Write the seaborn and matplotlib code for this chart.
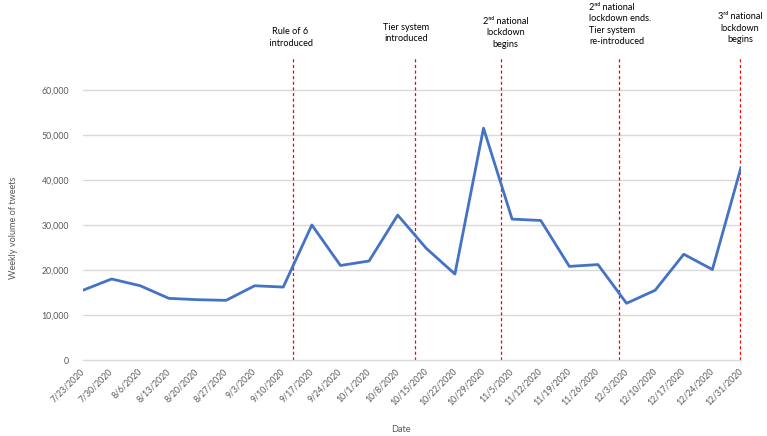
import numpy as np
import pandas as pd
import matplotlib
matplotlib.use("Agg")
import matplotlib.pyplot as plt
import seaborn as sns

# =========================
# Data
# =========================
dates = ["7/23/2020", "7/30/2020", "8/6/2020", "8/13/2020", "8/20/2020", "8/27/2020",
         "9/3/2020", "9/10/2020", "9/17/2020", "9/24/2020", "10/1/2020", "10/8/2020",
         "10/15/2020", "10/22/2020", "10/29/2020", "11/5/2020", "11/12/2020",
         "11/19/2020", "11/26/2020", "12/3/2020", "12/10/2020", "12/17/2020",
         "12/24/2020", "12/31/2020"]
weekly_tweets = [15500, 18000, 16500, 13700, 13400, 13250,
                 16500, 16200, 30000, 21000, 22000, 32200,
                 24800, 19100, 51500, 31300, 31000,
                 20800, 21200, 12600, 15500, 23500,
                 20100, 42800]

# event markers (position on the weekly axis) and their labels
event_pos = [7.35, 11.6, 14.6, 18.72, 22.98]
event_text = [
    "Rule of 6\n introduced",
    "Tier system\nintroduced",
    "2ⁿᵈ national\nlockdown\nbegins",
    "2ⁿᵈ national\nlockdown ends.\nTier system\nre-introduced",
    "3ʳᵈ national\nlockdown\nbegins",
]

# =========================
# Setup
# =========================
sns.set_theme(style="white")
plt.rcParams["font.family"] = ["Lato", "DejaVu Sans"]

df = pd.DataFrame({"week": np.arange(len(dates)), "tweets": weekly_tweets})

fig = plt.figure(figsize=(7.67, 4.36), dpi=100)
ax = fig.add_axes([0.1082, 0.1743, 0.8579, 0.6927])

GRID = "#d9d9d9"
TXT = "#595959"

# gridlines
for v in range(10000, 60001, 10000):
    ax.axhline(v, color=GRID, lw=1, zorder=0)

# =========================
# Line
# =========================
sns.lineplot(data=df, x="week", y="tweets", color="#4472C4", linewidth=2.0, ax=ax, zorder=3)

# event lines
for x in event_pos:
    ax.axvline(x, color="#ff0000", lw=0.9, ls=(0, (2.5, 2.0)), zorder=2)

# event annotations
text_y = [1.068, 1.084, 1.083, 1.111, 1.099]
text_x = [7.24, 11.29, 14.76, 17.69, 22.97]
text_ha = ["center", "center", "center", "left", "center"]
for x, y, t, ha in zip(text_x, text_y, event_text, text_ha):
    ax.text(x, y, t, transform=ax.get_xaxis_transform(), ha=ha, va="center",
            multialignment=ha, fontsize=6.6, color="black", linespacing=1.3,
            clip_on=False)

# =========================
# Axes styling
# =========================
ax.set_xlim(0, len(dates) - 1)
ax.set_ylim(0, 67100)
ax.set_yticks(range(0, 60001, 10000))
ax.set_yticklabels([f"{v:,}" for v in range(0, 60001, 10000)], fontsize=6.3, color=TXT)
ax.set_xticks(np.arange(len(dates)))
ax.set_xticklabels(dates, rotation=45, ha="right", va="center", rotation_mode="anchor",
                   fontsize=6.3, color=TXT)
ax.tick_params(axis="both", length=0)
ax.tick_params(axis="x", pad=7)
ax.tick_params(axis="y", pad=10)

for s in ["top", "right", "left"]:
    ax.spines[s].set_visible(False)
ax.spines["bottom"].set_color(GRID)
ax.spines["bottom"].set_linewidth(1)

ax.set_xlabel("Date", fontsize=6.6, color=TXT)
ax.set_ylabel("Weekly volume of tweets", fontsize=6.6, color=TXT)
ax.xaxis.set_label_coords(0.483, -0.215)
ax.yaxis.set_label_coords(-0.099, 0.437)

# =========================
# Save
# =========================
fig.savefig("out.png", dpi=100)
plt.close(fig)
